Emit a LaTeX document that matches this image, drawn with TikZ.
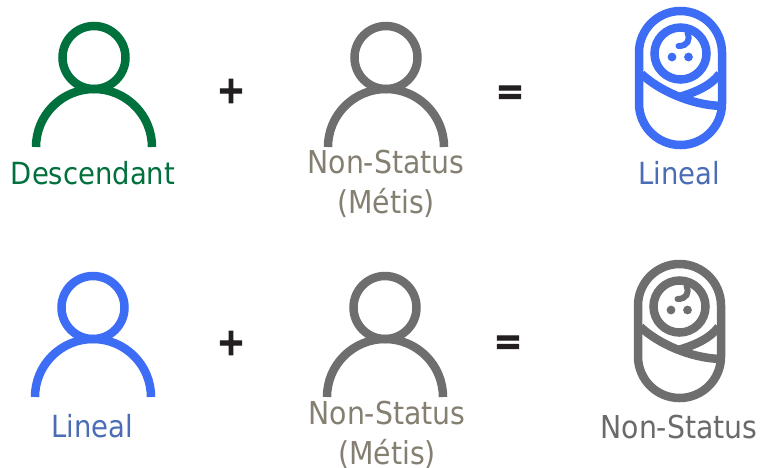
\documentclass[tikz,border=0pt]{standalone}
\usepackage{fontspec}
\setmainfont{DejaVu Sans Condensed}
\newfontfamily\signfont[FakeBold=2.5]{DejaVu Sans Condensed Bold}
\definecolor{cgreen}{HTML}{00703C}
\definecolor{cblue}{HTML}{3D6DF5}
\definecolor{cgray}{HTML}{6E6E6E}
\definecolor{tblue}{HTML}{4A6DB5}
\definecolor{tgray}{HTML}{857F72}
\definecolor{tdark}{HTML}{6A6A6A}
\definecolor{opk}{HTML}{231F20}
\tikzset{
  x=1pt,y=-1pt,
  lbl/.style={font=\fontsize{30.5}{39}\selectfont,align=center,inner sep=0pt},
  lblw/.style={font=\fontsize{31.5}{39.5}\selectfont,align=center,inner sep=0pt},
  opsign/.style={font=\fontsize{38}{38}\selectfont\signfont,text=opk,inner sep=0pt},
  pics/personicon/.style={code={
    \draw[line width=8.5pt,#1] (0,-32.5) circle[radius=31.5];
    \draw[line width=8.5pt,#1] (-58,57) arc[start angle=180,end angle=360,radius=58];
  }},
  pics/babyicon/.style={code={
    \draw[line width=8.5pt,#1]
      (-41.5,-25.5) arc[start angle=180,end angle=360,radius=41.5]
      -- (41.5,25.5) arc[start angle=0,end angle=180,radius=41.5] -- cycle;
    \draw[line width=8.5pt,#1] (0,-24.5) circle[radius=26];
    \fill[#1] (-8.5,-21) circle[radius=4.4] (8,-21) circle[radius=4.4];
    \draw[line width=6pt,line cap=round,#1] (7,-45) .. controls (10,-38) and (7,-32) .. (-2,-32);
    \draw[line width=8.5pt,#1] (-39,-4) .. controls (-22,12) and (10,27) .. (41,28);
    \draw[line width=8.5pt,#1] (-1,19) .. controls (15,14) and (30,8) .. (39,-4);
  }}
}
\begin{document}
\begin{tikzpicture}
\useasboundingbox (0,0) rectangle (760,467);
\pic at (94,90) {personicon=cgreen};
\pic at (386,90) {personicon=cgray};
\pic at (93,340) {personicon=cblue};
\pic at (385,340) {personicon=cgray};
\pic at (680.5,78) {babyicon=cblue};
\begin{scope}[shift={(679.5,331)},scale=1.025]
\pic at (0,0) {babyicon=cgray};
\end{scope}
\node[opsign] (p1) at (231,91) {+};
\node[opsign] (e1) at (510,95) {=};
\node[opsign] (p2) at (231,343) {+};
\node[opsign] (e2) at (508,345) {=};
\node[lbl,text=cgreen] (t1) at (93,173) {Descendant};
\node[lblw,text=tgray] (t2) at (386,184) {Non-Status\\(Métis)};
\node[lbl,text=tblue] (t3) at (679,173) {Lineal};
\node[lbl,text=tblue] (t4) at (92,426) {Lineal};
\node[lblw,text=tgray] (t5) at (387,435) {Non-Status\\(Métis)};
\node[lblw,text=tdark] (t6) at (679,427) {Non-Status};
\end{tikzpicture}
\end{document}
